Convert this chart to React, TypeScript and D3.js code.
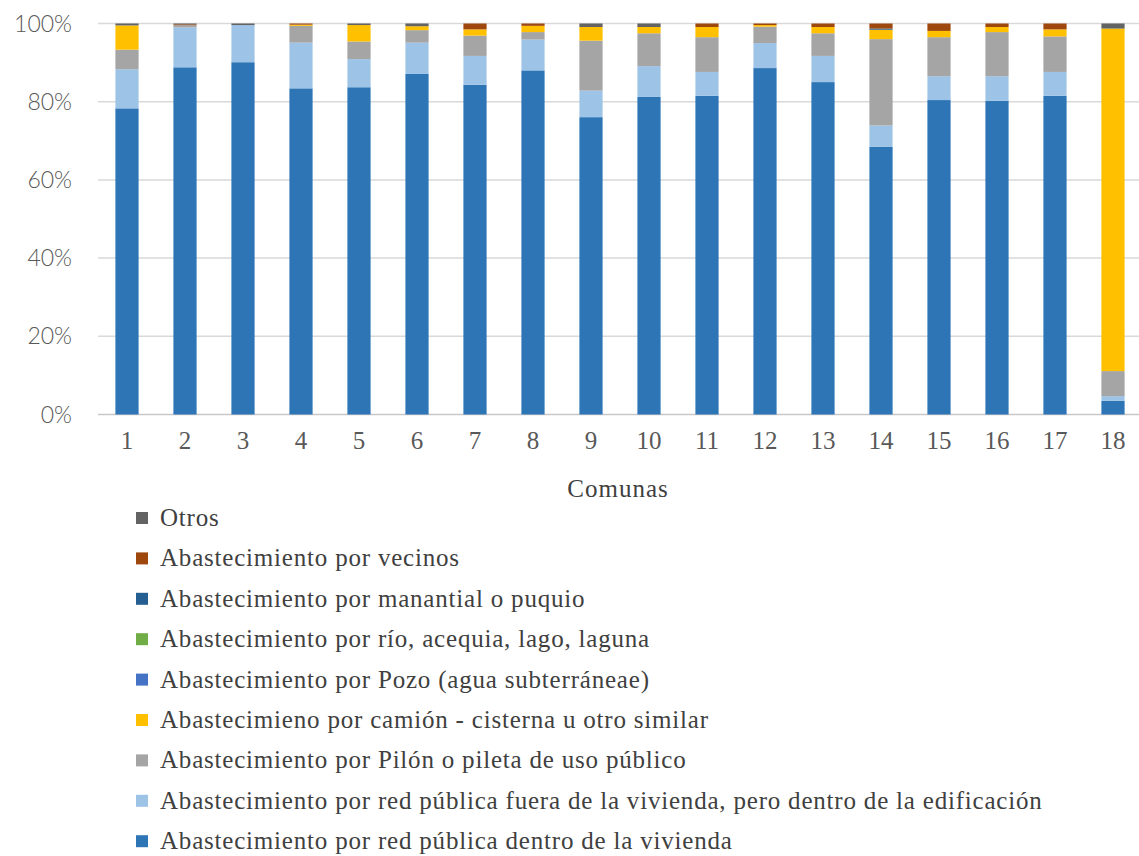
import React from "react";
import * as d3 from "d3";

const comunas = ["1","2","3","4","5","6","7","8","9","10","11","12","13","14","15","16","17","18"];

const seriesNames = [
  "Abastecimiento por red pública dentro de la vivienda",
  "Abastecimiento por red pública fuera de la vivienda, pero dentro de la edificación",
  "Abastecimiento por Pilón o pileta de uso público",
  "Abastecimieno por camión - cisterna u otro similar",
  "Abastecimiento por Pozo (agua subterráneae)",
  "Abastecimiento por río, acequia, lago, laguna",
  "Abastecimiento por manantial o puquio",
  "Abastecimiento por vecinos",
  "Otros",
];
const seriesColors = ["#2E75B6", "#9DC3E6", "#A5A5A5", "#FFC000", "#4472C4", "#70AD47", "#255E91", "#9E480E", "#636363"];

const redDentro = [78.3, 88.8, 90.1, 83.5, 83.7, 87.1, 84.4, 88.1, 76.2, 81.3, 81.6, 88.6, 85.1, 68.5, 80.5, 80.3, 81.6, 3.5];
const redFuera = [10.0, 10.2, 9.5, 11.7, 7.2, 8.0, 7.4, 7.9, 6.8, 7.9, 6.1, 6.4, 6.7, 5.5, 6.1, 6.3, 6.1, 1.2];
const pilon = [5.0, 0.6, 0, 4.3, 4.5, 3.2, 5.2, 1.9, 12.8, 8.4, 8.9, 4.2, 5.8, 22.1, 10.0, 11.3, 9.1, 6.4];
const camion = [6.2, 0, 0, 0.3, 4.2, 1.0, 1.6, 1.6, 3.5, 1.6, 2.6, 0.4, 1.6, 2.4, 1.6, 1.3, 1.8, 87.6];
const pozo = [0, 0, 0, 0, 0, 0, 0, 0, 0, 0, 0, 0, 0, 0, 0, 0, 0, 0];
const rio = [0, 0, 0, 0, 0, 0, 0, 0, 0, 0, 0, 0, 0, 0, 0, 0, 0, 0];
const manantial = [0, 0, 0, 0, 0, 0, 0, 0, 0, 0, 0, 0, 0, 0.3, 0, 0, 0, 0];
const vecinos = [0, 0.2, 0, 0.3, 0, 0, 1.5, 0.6, 0, 0, 0.9, 0.4, 0.9, 1.3, 1.9, 0.9, 1.5, 0];
const otros = [0.5, 0.2, 0.4, 0, 0.4, 0.7, 0, 0, 0.9, 0.9, 0, 0, 0, 0, 0, 0, 0, 1.3];

const yTicks = [0, 0.2, 0.4, 0.6, 0.8, 1.0];

const SERIF = "'Liberation Serif', 'Times New Roman', serif";

export default function App() {
  const W = 1139, H = 856;
  const seriesValues = [redDentro, redFuera, pilon, camion, pozo, rio, manantial, vecinos, otros];
  const keys = seriesNames.map((_, i) => "s" + i);
  const rows = comunas.map((c, j) => {
    const r: any = { c };
    keys.forEach((k, i) => (r[k] = seriesValues[i][j]));
    return r;
  });
  const stacked = d3.stack().keys(keys).offset(d3.stackOffsetExpand)(rows);

  const x = d3.scaleBand().domain(comunas).range([98, 1142]).paddingInner(0.6).paddingOuter(0.3);
  const y = d3.scaleLinear().domain([0, 1]).range([414.5, 23.5]);
  const fmt = d3.format(".0%");

  const legendOrder = seriesNames.map((n, i) => i).reverse();

  return (
    <svg width={W} height={H} style={{ position: "absolute", left: 0, top: 0, background: "#fff" }}>
      {yTicks.map((t) => (
        <g key={t}>
          <line x1={98} x2={1139} y1={y(t)} y2={y(t)} stroke={t === 0 ? "#C8C8C8" : "#D9D9D9"} strokeWidth={1.5} />
          <text x={72} y={y(t) + 8} textAnchor="end" fontFamily="Lato" fontWeight={300} fontSize={23} fill="#595959">
            {fmt(t)}
          </text>
        </g>
      ))}
      {stacked.map((s, i) => (
        <g key={s.key} fill={seriesColors[i]}>
          {s.map((d, j) => {
            const h = y(d[0]) - y(d[1]);
            if (h <= 0) return null;
            return <rect key={j} x={x(comunas[j])} width={x.bandwidth()} y={y(d[1])} height={h} />;
          })}
        </g>
      ))}
      {comunas.map((c) => (
        <text key={c} x={(x(c) as number) + x.bandwidth() / 2} y={449} textAnchor="middle"
          fontFamily={SERIF} fontSize={25} fill="#595959">{c}</text>
      ))}
      <text x={618} y={497} textAnchor="middle" fontFamily={SERIF} fontSize={25} letterSpacing={1} fill="#404040">Comunas</text>
      {legendOrder.map((si, k) => {
        const cy = 518 + k * 40.4;
        return (
          <g key={si}>
            <rect x={136} y={cy - 6} width={12} height={12} fill={seriesColors[si]} />
            <text x={160} y={cy + 8} fontFamily={SERIF} fontSize={25} letterSpacing={0.8} fill="#404040">{seriesNames[si]}</text>
          </g>
        );
      })}
    </svg>
  );
}
